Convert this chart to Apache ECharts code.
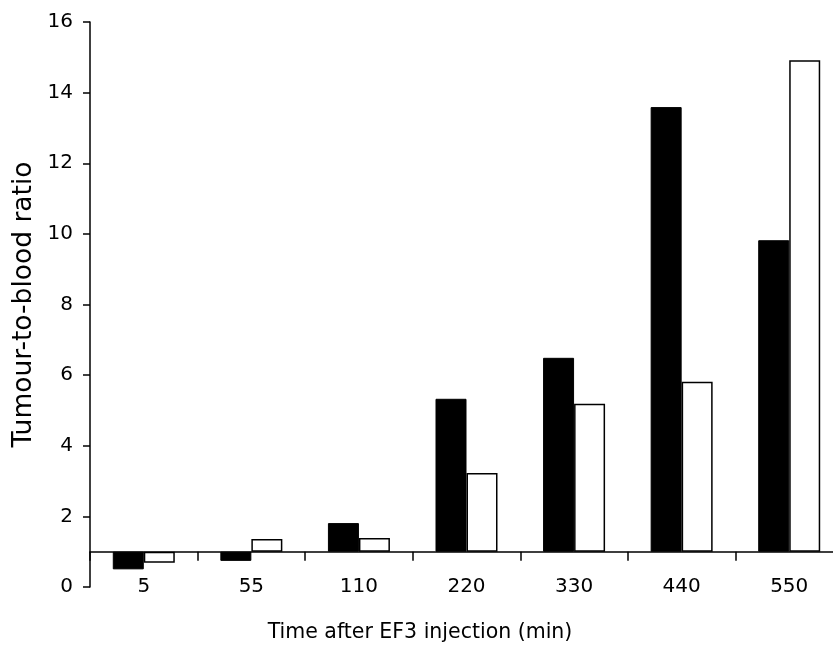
<!DOCTYPE html>
<html>
<head>
<meta charset="utf-8">
<script src="https://cdn.jsdelivr.net/npm/echarts@6/dist/echarts.min.js"></script>
<style>
  html, body { margin: 0; padding: 0; background: #fff; }
  #chart { width: 833px; height: 648px; }
</style>
</head>
<body>
<div id="chart"></div>
<script>
// time points (min)
let categories = ["5", "55", "110", "220", "330", "440", "550"];
// tumour-to-blood ratios
let blackValues = [0.50, 0.74, 1.81, 5.33, 6.49, 13.59, 9.82];
let whiteValues = [0.69, 1.36, 1.39, 3.23, 5.19, 5.81, 14.92];
let yTicks = [0, 2, 4, 6, 8, 10, 12, 14, 16];
// bars grow up or down from a ratio of 1
let baseline = 1;

let fontFamily = "'DejaVu Sans', Verdana, sans-serif";

let chart = echarts.init(document.getElementById("chart"));

function fromBaseline(arr) {
    return arr.map(v => +(v - baseline).toFixed(3));
}

let option = {
    animation: false,
    backgroundColor: "#fff",
    // x axis caption, sits below the tick labels
    title: {
        text: "Time after EF3 injection (min)",
        left: 420,
        top: 622,
        textAlign: "center",
        padding: 0,
        textStyle: {
            color: "#000",
            fontSize: 20.5,
            fontWeight: "normal",
            fontFamily: fontFamily
        }
    },
    grid: {
        left: 90,
        top: 22,
        width: 753,
        height: 565,
        outerBoundsMode: "none",
        containLabel: false
    },
    xAxis: {
        type: "category",
        data: categories,
        axisLine: {
            onZero: true,
            onZeroAxisIndex: 1,
            lineStyle: {color: "#000", width: 1.5}
        },
        axisTick: {
            show: true,
            alignWithLabel: false,
            inside: false,
            length: 9,
            lineStyle: {color: "#000", width: 1.5}
        },
        axisLabel: {
            margin: -10,
            color: "#000",
            fontSize: 20,
            fontFamily: fontFamily
        },
        splitLine: {show: false}
    },
    yAxis: [
        {
            type: "value",
            min: yTicks[0],
            max: yTicks[yTicks.length - 1],
            interval: 2,
            axisLine: {show: true, lineStyle: {color: "#000", width: 1.5}},
            axisTick: {show: true, length: 7, lineStyle: {color: "#000", width: 1.5}},
            axisLabel: {
                margin: 17,
                color: "#000",
                fontSize: 20,
                fontFamily: fontFamily
            },
            splitLine: {show: false},
            name: "Tumour-to-blood ratio",
            nameLocation: "middle",
            nameGap: 52,
            nameMoveOverlap: false,
            nameTextStyle: {
                color: "#000",
                fontSize: 26.5,
                fontFamily: fontFamily
            }
        },
        {
            // hidden helper axis shifted so its zero sits at a ratio of 1
            type: "value",
            show: false,
            min: yTicks[0] - baseline,
            max: yTicks[yTicks.length - 1] - baseline,
            splitLine: {show: false}
        }
    ],
    series: [
        {
            name: "black",
            type: "bar",
            yAxisIndex: 1,
            data: fromBaseline(blackValues),
            barWidth: 31,
            barGap: "0%",
            itemStyle: {color: "#000", borderColor: "#000", borderWidth: 1}
        },
        {
            name: "white",
            type: "bar",
            yAxisIndex: 1,
            data: fromBaseline(whiteValues),
            barWidth: 31,
            barGap: "0%",
            itemStyle: {color: "#fff", borderColor: "#000", borderWidth: 1.5}
        }
    ]
};

chart.setOption(option);
</script>
</body>
</html>
